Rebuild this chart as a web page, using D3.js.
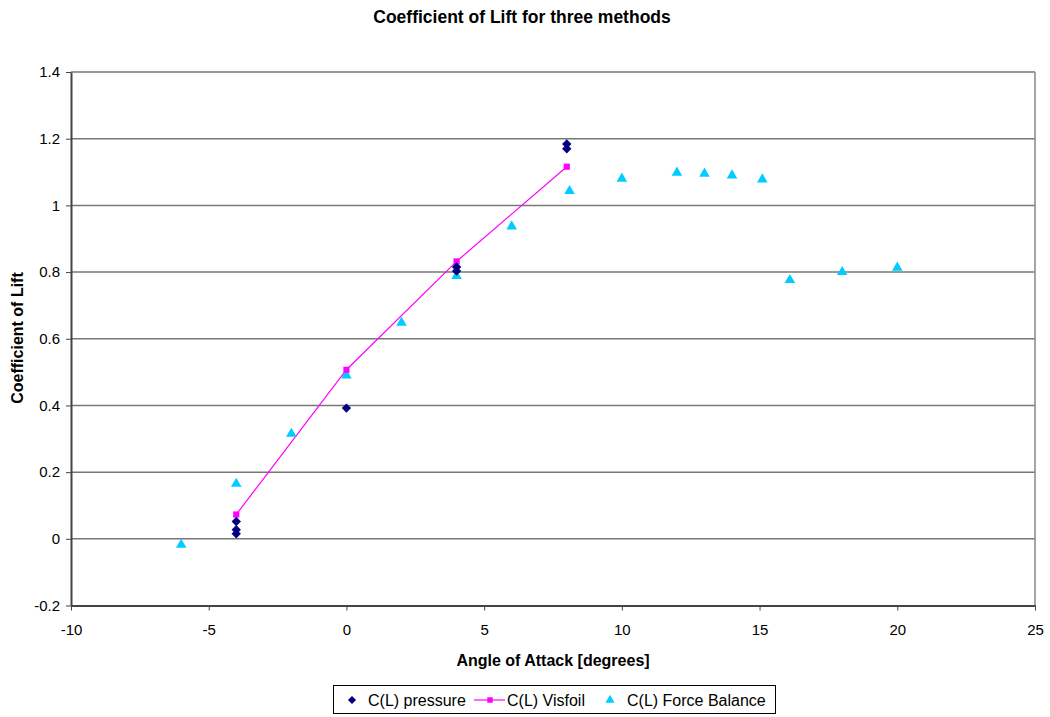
<!DOCTYPE html>
<html>
<head>
<meta charset="utf-8">
<script src="https://cdn.jsdelivr.net/npm/d3@7"></script>
<style>
  html, body { margin: 0; padding: 0; background: #fff; }
  svg { display: block; font-family: "Liberation Sans", Arial, sans-serif; }
</style>
</head>
<body>
<svg id="chart" width="1050" height="717"></svg>
<script>
// Lift coefficient vs angle of attack, three measurement methods
const pressureAlpha = [-4, -4, -4, 0, 4, 4, 8, 8];
const pressureCL    = [0.052, 0.027, 0.015, 0.392, 0.815, 0.803, 1.184, 1.170];

const visfoilAlpha = [-4, 0, 4, 8];
const visfoilCL    = [0.073, 0.507, 0.832, 1.116];

const forceAlpha = [-6, -4, -2, 0, 2, 4, 6, 8.1, 10, 12, 13, 14, 15.1, 16.1, 18, 20];
const forceCL    = [-0.018, 0.165, 0.315, 0.490, 0.648, 0.788, 0.937, 1.043, 1.080, 1.098, 1.095, 1.090, 1.078, 0.776, 0.800, 0.813];

const xTicks = [-10, -5, 0, 5, 10, 15, 20, 25];
const yTicks = [-0.2, 0, 0.2, 0.4, 0.6, 0.8, 1.0, 1.2, 1.4];

const titleText  = "Coefficient of Lift for three methods";
const xTitleText = "Angle of Attack [degrees]";
const yTitleText = "Coefficient of Lift";
const seriesNames = ["C(L) pressure", "C(L) Visfoil", "C(L) Force Balance"];

const colPressure = "#000080";
const colVisfoil  = "#ff00ff";
const colForce    = "#00ccff";

const svg = d3.select("#chart");
const plot = { left: 71, right: 1035, top: 72, bottom: 605.5 };

const x = d3.scaleLinear().domain([-10, 25]).range([plot.left, plot.right]);
const y = d3.scaleLinear().domain([-0.2, 1.4]).range([plot.bottom, plot.top]);

// Horizontal gridlines
svg.append("g").selectAll("line").data(yTicks.filter(v => v > -0.2)).join("line")
  .attr("x1", plot.left).attr("x2", plot.right)
  .attr("y1", d => y(d)).attr("y2", d => y(d))
  .attr("stroke", "#777").attr("stroke-width", 1.5);

// Right border of the plot area
svg.append("line")
  .attr("x1", plot.right).attr("x2", plot.right)
  .attr("y1", plot.top).attr("y2", plot.bottom)
  .attr("stroke", "#888").attr("stroke-width", 1.5);

// Axes (plain hyphen for negative numbers)
const hyphen = s => s.replace("\u2212", "-");
const xAxis = d3.axisBottom(x).tickValues(xTicks).tickSize(5).tickSizeOuter(0)
  .tickFormat(d => hyphen(d3.format("d")(d)));
const yAxis = d3.axisLeft(y).tickValues(yTicks).tickSize(5).tickSizeOuter(0)
  .tickFormat(d => d === 0 ? "0" : d === 1 ? "1" : hyphen(d3.format(".1f")(d)));

const gx = svg.append("g").attr("transform", `translate(0,${plot.bottom})`).call(xAxis);
const gy = svg.append("g").attr("transform", `translate(${plot.left},0)`).call(yAxis);

[gx, gy].forEach(g => {
  g.select(".domain").attr("stroke", "#444").attr("stroke-width", 2);
  g.selectAll(".tick line").attr("stroke", "#444").attr("stroke-width", 1);
  g.selectAll("text").attr("fill", "#000").attr("font-size", 15)
    .attr("font-family", "'Liberation Sans', Arial, sans-serif");
});
gx.selectAll(".tick text").attr("y", 19).attr("dy", "0.71em");
gy.selectAll(".tick text").attr("x", -11);

// Titles
svg.append("text").attr("x", 522).attr("y", 23).attr("text-anchor", "middle")
  .attr("font-weight", "bold").attr("font-size", 17.5).text(titleText);
svg.append("text").attr("x", 553).attr("y", 666).attr("text-anchor", "middle")
  .attr("font-weight", "bold").attr("font-size", 16).text(xTitleText);
svg.append("text").attr("transform", "translate(23,338) rotate(-90)").attr("text-anchor", "middle")
  .attr("font-weight", "bold").attr("font-size", 16).text(yTitleText);

// Marker shapes
const diamond  = d3.symbol().type(d3.symbolDiamond2).size(56);
const square   = d3.symbol().type(d3.symbolSquare).size(38);
const triangle = d3.symbol().type(d3.symbolTriangle2).size(80);

// Visfoil line + squares
const visData = visfoilAlpha.map((a, i) => [a, visfoilCL[i]]);
svg.append("path").datum(visData)
  .attr("d", d3.line().x(d => x(d[0])).y(d => y(d[1])))
  .attr("fill", "none").attr("stroke", colVisfoil).attr("stroke-width", 1.2);

// Force balance triangles
svg.append("g").selectAll("path").data(forceAlpha.map((a, i) => [a, forceCL[i]])).join("path")
  .attr("d", triangle)
  .attr("transform", d => `translate(${x(d[0])},${y(d[1])})`)
  .attr("fill", colForce);

svg.append("g").selectAll("path").data(visData).join("path")
  .attr("d", square)
  .attr("transform", d => `translate(${x(d[0])},${y(d[1])})`)
  .attr("fill", colVisfoil);

// Pressure diamonds
svg.append("g").selectAll("path").data(pressureAlpha.map((a, i) => [a, pressureCL[i]])).join("path")
  .attr("d", diamond)
  .attr("transform", d => `translate(${x(d[0])},${y(d[1])})`)
  .attr("fill", colPressure);

// Legend
const lg = svg.append("g");
lg.append("rect").attr("x", 333.5).attr("y", 685.5).attr("width", 442).attr("height", 28)
  .attr("fill", "#fff").attr("stroke", "#000").attr("stroke-width", 1);
const ly = 700;
lg.append("path").attr("d", d3.symbol().type(d3.symbolDiamond2).size(42))
  .attr("transform", `translate(352,${ly})`).attr("fill", colPressure);
lg.append("text").attr("x", 368).attr("y", ly + 6).attr("font-size", 16).text(seriesNames[0]);
lg.append("line").attr("x1", 474).attr("x2", 505).attr("y1", ly).attr("y2", ly)
  .attr("stroke", colVisfoil).attr("stroke-width", 1.2);
lg.append("path").attr("d", d3.symbol().type(d3.symbolSquare).size(30))
  .attr("transform", `translate(490,${ly})`).attr("fill", colVisfoil);
lg.append("text").attr("x", 507).attr("y", ly + 6).attr("font-size", 16).text(seriesNames[1]);
lg.append("path").attr("d", d3.symbol().type(d3.symbolTriangle2).size(60))
  .attr("transform", `translate(610,${ly})`).attr("fill", colForce);
lg.append("text").attr("x", 627).attr("y", ly + 6).attr("font-size", 16).text(seriesNames[2]);
</script>
</body>
</html>
